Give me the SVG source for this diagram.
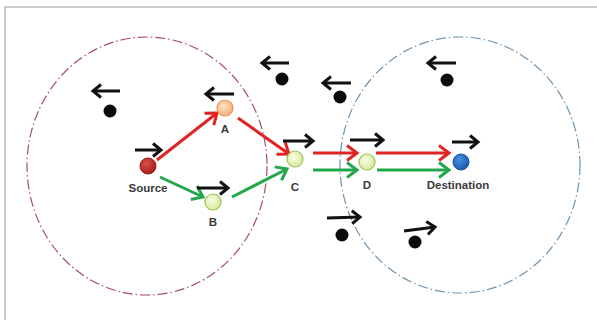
<svg xmlns="http://www.w3.org/2000/svg" width="597" height="320" viewBox="0 0 597 320">
<style>
.lbl{font-family:"Liberation Sans",Arial,sans-serif;font-weight:bold;font-size:11.5px;fill:#3a3a3a;text-anchor:middle}
.red{stroke:#e02424;stroke-width:3;fill:none;marker-end:url(#hr)}
.grn{stroke:#22a84a;stroke-width:3;fill:none;marker-end:url(#hg)}
.dir{stroke:#111;stroke-width:3;fill:none;marker-end:url(#hk)}
.dot{fill:#0a0a0a}
.gn{fill:url(#gG);stroke:#9cc25a;stroke-width:1.2}
</style>
<defs>
<marker id="hr" markerWidth="16" markerHeight="18" refX="12" refY="9" orient="auto" markerUnits="userSpaceOnUse"><path d="M2,1.5 L12,9 L2,16.5" fill="none" stroke="#e02424" stroke-width="3"/></marker>
<marker id="hg" markerWidth="16" markerHeight="18" refX="12" refY="9" orient="auto" markerUnits="userSpaceOnUse"><path d="M2,1.5 L12,9 L2,16.5" fill="none" stroke="#22a84a" stroke-width="3"/></marker>
<marker id="hk" markerWidth="13" markerHeight="16" refX="10" refY="8" orient="auto" markerUnits="userSpaceOnUse"><path d="M2,1.5 L10,8 L2,14.5" fill="none" stroke="#111" stroke-width="3"/></marker>
<radialGradient id="gG" cx="0.4" cy="0.4" r="0.6"><stop offset="0" stop-color="#fbfde8"/><stop offset="1" stop-color="#d6ea9c"/></radialGradient>
<radialGradient id="gO" cx="0.4" cy="0.4" r="0.6"><stop offset="0" stop-color="#fde2c8"/><stop offset="1" stop-color="#f7b27a"/></radialGradient>
<radialGradient id="gR" cx="0.4" cy="0.35" r="0.65"><stop offset="0" stop-color="#d85048"/><stop offset="1" stop-color="#a81c1c"/></radialGradient>
<radialGradient id="gB" cx="0.4" cy="0.35" r="0.65"><stop offset="0" stop-color="#4a8ee0"/><stop offset="1" stop-color="#1d5cb4"/></radialGradient>
</defs>
<rect x="5" y="7" width="600" height="330" fill="#fff" stroke="#bdbdbd" stroke-width="1.5"/>
<g id="ranges">
<ellipse cx="147" cy="166" rx="120" ry="129" fill="none" stroke="#a8505a" stroke-width="1.2" stroke-dasharray="10 3 1.5 3"/>
<ellipse cx="460" cy="165" rx="120" ry="128" fill="none" stroke="#6f93ad" stroke-width="1.2" stroke-dasharray="10 3 1.5 3"/>
</g>
<g id="others">
<circle class="dot" cx="110" cy="111" r="6.5"/><path class="dir" d="M120,91 L93,91"/>
<circle class="dot" cx="282" cy="79" r="6.5"/><path class="dir" d="M289,63 L262,63"/>
<circle class="dot" cx="340" cy="97" r="6.5"/><path class="dir" d="M351,83 L323,83"/>
<circle class="dot" cx="447" cy="80" r="6.5"/><path class="dir" d="M456,63 L428,63"/>
<circle class="dot" cx="342" cy="235" r="6.5"/><path class="dir" d="M327,218 L360,217"/>
<circle class="dot" cx="415" cy="242" r="6.5"/><path class="dir" d="M404,231 L435,227"/>
</g>
<g id="connectors">
<path class="red" d="M157,160 L217,113"/>
<path class="red" d="M238,118 L289,154"/>
<path class="red" d="M313,153 L357,153"/>
<path class="red" d="M376,153 L449,153"/>
<path class="grn" d="M160,177 L203,197"/>
<path class="grn" d="M232,197 L287,169"/>
<path class="grn" d="M313,170 L357,170"/>
<path class="grn" d="M377,170 L449,170"/>
</g>
<g id="source"><circle cx="148" cy="166" r="8" fill="url(#gR)" stroke="#9a1a1a" stroke-width="1"/><path class="dir" d="M135,150 L161,150"/><text class="lbl" x="148" y="192">Source</text></g>
<g id="A"><circle cx="225" cy="108" r="8" fill="url(#gO)" stroke="#e8955a" stroke-width="1.2"/><path class="dir" d="M234,94 L206,94"/><text class="lbl" x="225" y="133">A</text></g>
<g id="B"><circle class="gn" cx="213" cy="202" r="8"/><path class="dir" d="M197,188 L228,188"/><text class="lbl" x="213" y="226">B</text></g>
<g id="C"><circle class="gn" cx="295" cy="159" r="8"/><path class="dir" d="M283,141 L313,141"/><text class="lbl" x="295" y="191">C</text></g>
<g id="D"><circle class="gn" cx="367" cy="162" r="8"/><path class="dir" d="M350,140 L383,140"/><text class="lbl" x="367" y="189">D</text></g>
<g id="destination"><circle cx="461" cy="162" r="8" fill="url(#gB)" stroke="#1a52a0" stroke-width="1"/><path class="dir" d="M452,142 L478,142"/><text class="lbl" x="458" y="189">Destination</text></g>
</svg>
